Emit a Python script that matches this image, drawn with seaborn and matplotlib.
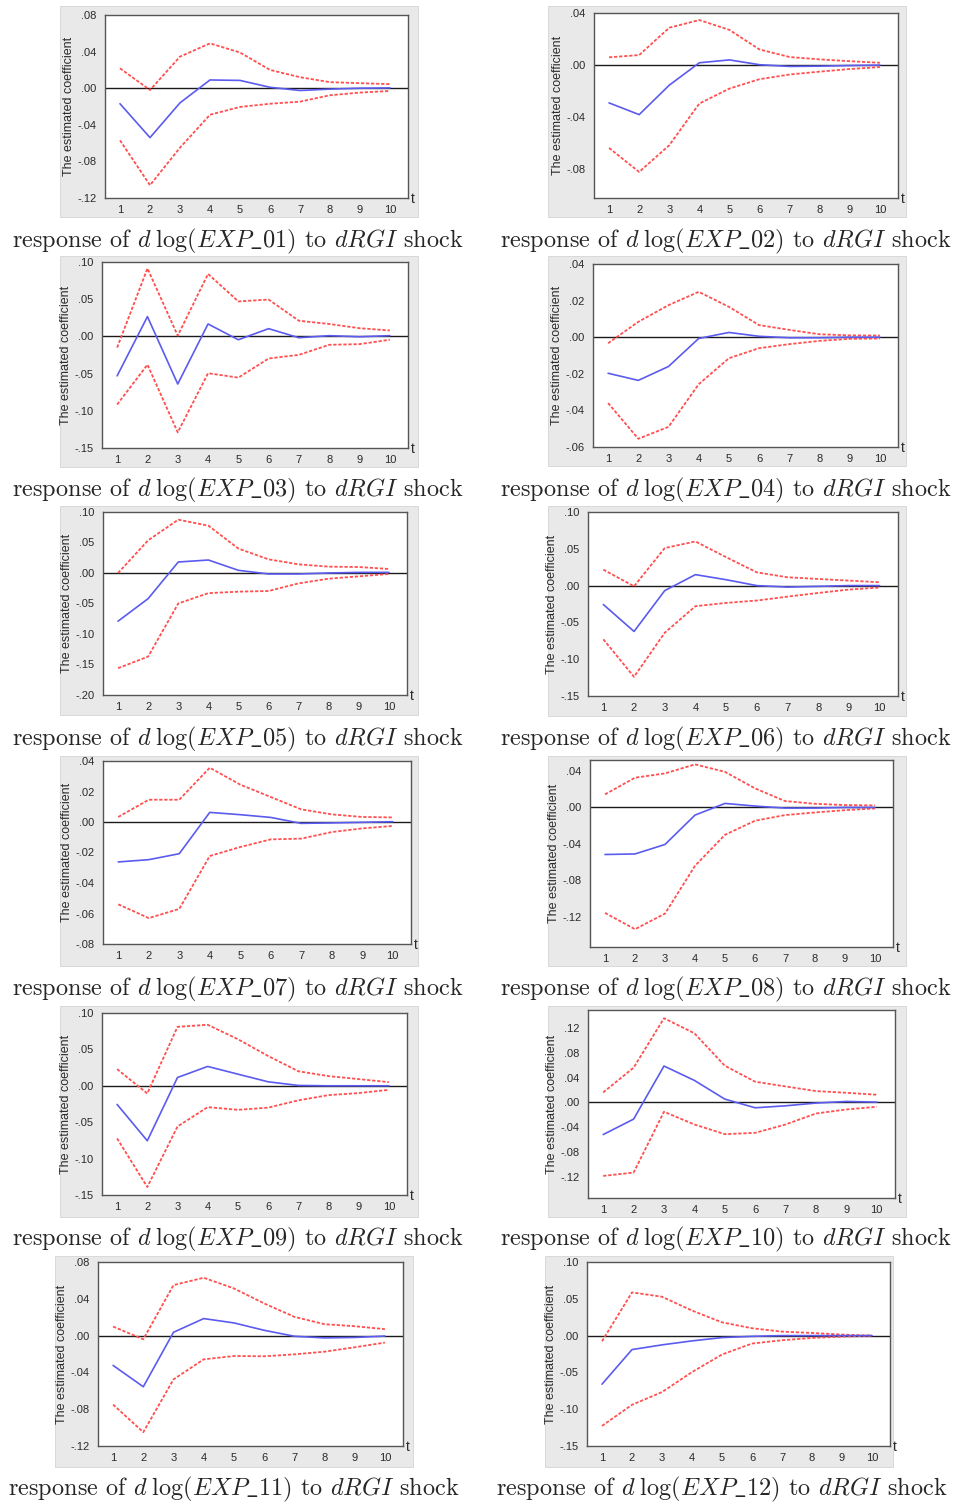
import matplotlib
matplotlib.use("Agg")
import matplotlib.pyplot as plt
from matplotlib.patches import Rectangle
from matplotlib.ticker import FuncFormatter
import seaborn as sns

# impulse horizon
PERIODS = list(range(1, 11))

# EXP_01
RESP_01 = [-0.017, -0.054, -0.016, 0.009, 0.0085, 0.001, -0.0025, -0.001, 0.0, 0.0003]
UPPER_01 = [0.0217, -0.002, 0.0345, 0.049, 0.039, 0.020, 0.012, 0.0066, 0.0055, 0.0044]
LOWER_01 = [-0.057, -0.106, -0.065, -0.029, -0.0205, -0.017, -0.0147, -0.0077, -0.0048, -0.003]
YLIM_01 = (-0.12, 0.08)
YTICKS_01 = [-0.12, -0.08, -0.04, 0.0, 0.04, 0.08]

# EXP_02
RESP_02 = [-0.029, -0.038, -0.0154, 0.0018, 0.004, 0.0003, -0.001, -0.0008, -0.0003, 0.0]
UPPER_02 = [0.006, 0.0077, 0.0287, 0.0346, 0.027, 0.012, 0.0062, 0.0044, 0.003, 0.0018]
LOWER_02 = [-0.0636, -0.082, -0.0615, -0.0295, -0.018, -0.0108, -0.0072, -0.005, -0.003, -0.0015]
YLIM_02 = (-0.102, 0.04)
YTICKS_02 = [-0.08, -0.04, 0.0, 0.04]

# EXP_03
RESP_03 = [-0.053, 0.0266, -0.064, 0.0167, -0.0045, 0.0104, -0.0018, 0.001, -0.0005, 0.001]
UPPER_03 = [-0.015, 0.0914, 0.001, 0.084, 0.047, 0.0495, 0.021, 0.0167, 0.011, 0.008]
LOWER_03 = [-0.0915, -0.038, -0.129, -0.0495, -0.0554, -0.0297, -0.0248, -0.0113, -0.0104, -0.0045]
YLIM_03 = (-0.15, 0.10)
YTICKS_03 = [-0.15, -0.10, -0.05, 0.0, 0.05, 0.10]

# EXP_04
RESP_04 = [-0.0197, -0.0236, -0.016, -0.0007, 0.0026, 0.0005, -0.0003, -0.0003, 0.0, 0.0]
UPPER_04 = [-0.0033, 0.0084, 0.0175, 0.0248, 0.0166, 0.0066, 0.004, 0.0016, 0.001, 0.0009]
LOWER_04 = [-0.036, -0.0555, -0.049, -0.0257, -0.0115, -0.006, -0.0038, -0.002, -0.0009, -0.0007]
YLIM_04 = (-0.06, 0.04)
YTICKS_04 = [-0.06, -0.04, -0.02, 0.0, 0.02, 0.04]

# EXP_05
RESP_05 = [-0.079, -0.042, 0.018, 0.0213, 0.0044, -0.0016, -0.0016, 0.0, 0.001, 0.001]
UPPER_05 = [0.0, 0.0536, 0.0874, 0.0776, 0.040, 0.0224, 0.0142, 0.0104, 0.0098, 0.0066]
LOWER_05 = [-0.156, -0.137, -0.050, -0.033, -0.0306, -0.0295, -0.017, -0.0093, -0.0055, -0.0016]
YLIM_05 = (-0.20, 0.10)
YTICKS_05 = [-0.20, -0.15, -0.10, -0.05, 0.0, 0.05, 0.10]

# EXP_06
RESP_06 = [-0.0257, -0.0623, -0.0068, 0.0149, 0.008, 0.0, -0.002, -0.001, 0.0, 0.0]
UPPER_06 = [0.0217, -0.001, 0.051, 0.060, 0.0386, 0.018, 0.0113, 0.009, 0.0068, 0.0045]
LOWER_06 = [-0.073, -0.124, -0.064, -0.028, -0.0235, -0.0203, -0.015, -0.010, -0.0054, -0.0027]
YLIM_06 = (-0.15, 0.10)
YTICKS_06 = [-0.15, -0.10, -0.05, 0.0, 0.05, 0.10]

# EXP_07
RESP_07 = [-0.0262, -0.0247, -0.0208, 0.0063, 0.0048, 0.003, -0.0009, -0.0006, -0.0002, 0.0002]
UPPER_07 = [0.0033, 0.0146, 0.0146, 0.0356, 0.0245, 0.0164, 0.0083, 0.005, 0.0033, 0.003]
LOWER_07 = [-0.054, -0.063, -0.057, -0.0223, -0.0164, -0.0114, -0.0109, -0.0066, -0.0042, -0.0026]
YLIM_07 = (-0.08, 0.04)
YTICKS_07 = [-0.08, -0.06, -0.04, -0.02, 0.0, 0.02, 0.04]

# EXP_08
RESP_08 = [-0.0516, -0.051, -0.0406, -0.0084, 0.0044, 0.0015, -0.0007, -0.0007, 0.0, 0.0]
UPPER_08 = [0.0143, 0.0326, 0.0373, 0.0472, 0.039, 0.0209, 0.007, 0.004, 0.0026, 0.0022]
LOWER_08 = [-0.1156, -0.1335, -0.1164, -0.064, -0.030, -0.0146, -0.0084, -0.0055, -0.003, -0.0011]
YLIM_08 = (-0.153, 0.052)
YTICKS_08 = [-0.12, -0.08, -0.04, 0.0, 0.04]

# EXP_09
RESP_09 = [-0.0256, -0.0755, 0.0114, 0.0266, 0.016, 0.0055, 0.0005, 0.0, 0.0, 0.0]
UPPER_09 = [0.0229, -0.0105, 0.081, 0.0838, 0.064, 0.041, 0.020, 0.0133, 0.0092, 0.005]
LOWER_09 = [-0.0723, -0.139, -0.0559, -0.0293, -0.033, -0.030, -0.020, -0.0128, -0.010, -0.0055]
YLIM_09 = (-0.15, 0.10)
YTICKS_09 = [-0.15, -0.10, -0.05, 0.0, 0.05, 0.10]

# EXP_10
RESP_10 = [-0.0517, -0.0269, 0.0587, 0.0355, 0.0054, -0.0086, -0.0054, -0.001, 0.0016, 0.0005]
UPPER_10 = [0.0162, 0.056, 0.1357, 0.1115, 0.0592, 0.0334, 0.0258, 0.0183, 0.0156, 0.0124]
LOWER_10 = [-0.1184, -0.113, -0.015, -0.0355, -0.0511, -0.049, -0.0355, -0.0178, -0.0113, -0.007]
YLIM_10 = (-0.154, 0.149)
YTICKS_10 = [-0.12, -0.08, -0.04, 0.0, 0.04, 0.08, 0.12]

# EXP_11
RESP_11 = [-0.0324, -0.0556, 0.0036, 0.0185, 0.0138, 0.0058, -0.0007, -0.0025, -0.002, -0.0005]
UPPER_11 = [0.0098, -0.004, 0.0549, 0.0629, 0.0513, 0.035, 0.0204, 0.0124, 0.0102, 0.007]
LOWER_11 = [-0.075, -0.105, -0.0476, -0.0258, -0.0222, -0.0225, -0.0204, -0.0175, -0.0127, -0.0076]
YLIM_11 = (-0.12, 0.08)
YTICKS_11 = [-0.12, -0.08, -0.04, 0.0, 0.04, 0.08]

# EXP_12
RESP_12 = [-0.066, -0.019, -0.0126, -0.0072, -0.0027, -0.001, 0.0, 0.0, 0.0, 0.0]
UPPER_12 = [-0.0077, 0.0587, 0.0528, 0.034, 0.018, 0.010, 0.0054, 0.0036, 0.0014, 0.0]
LOWER_12 = [-0.1227, -0.094, -0.0767, -0.0496, -0.0257, -0.0108, -0.0063, -0.0032, -0.0014, 0.0]
YLIM_12 = (-0.15, 0.10)
YTICKS_12 = [-0.15, -0.10, -0.05, 0.0, 0.05, 0.10]

SERIES = ["01", "02", "03", "04", "05", "06", "07", "08", "09", "10", "11", "12"]

PANELS = [
    (RESP_01, UPPER_01, LOWER_01, YLIM_01, YTICKS_01),
    (RESP_02, UPPER_02, LOWER_02, YLIM_02, YTICKS_02),
    (RESP_03, UPPER_03, LOWER_03, YLIM_03, YTICKS_03),
    (RESP_04, UPPER_04, LOWER_04, YLIM_04, YTICKS_04),
    (RESP_05, UPPER_05, LOWER_05, YLIM_05, YTICKS_05),
    (RESP_06, UPPER_06, LOWER_06, YLIM_06, YTICKS_06),
    (RESP_07, UPPER_07, LOWER_07, YLIM_07, YTICKS_07),
    (RESP_08, UPPER_08, LOWER_08, YLIM_08, YTICKS_08),
    (RESP_09, UPPER_09, LOWER_09, YLIM_09, YTICKS_09),
    (RESP_10, UPPER_10, LOWER_10, YLIM_10, YTICKS_10),
    (RESP_11, UPPER_11, LOWER_11, YLIM_11, YTICKS_11),
    (RESP_12, UPPER_12, LOWER_12, YLIM_12, YTICKS_12),
]

# pixel boxes: frame (l, t, r, b), plot area (l, t, r, b), caption centre (x, y)
LAYOUT = [
    ((60, 6, 418, 217), (105, 15, 408, 198), (238, 241)),
    ((548, 6, 906, 217), (594, 13, 898, 198), (726, 241)),
    ((60, 256, 418, 467), (102, 262, 408, 448), (238, 490)),
    ((548, 256, 906, 466), (593, 264, 898, 447), (726, 490)),
    ((60, 506, 418, 715), (103, 512, 407, 695), (238, 739)),
    ((548, 506, 906, 716), (588, 512, 898, 696), (726, 739)),
    ((60, 756, 418, 966), (103, 761, 411, 944), (238, 989)),
    ((548, 756, 906, 966), (590, 760, 893, 947), (726, 989)),
    ((60, 1006, 418, 1217), (102, 1013, 407, 1195), (238, 1239)),
    ((548, 1006, 906, 1217), (588, 1010, 895, 1198), (726, 1239)),
    ((55, 1256, 413, 1467), (98, 1262, 403, 1446), (234, 1489)),
    ((545, 1256, 893, 1467), (587, 1262, 890, 1446), (722, 1489)),
]

W, H = 965, 1504
BLUE = "#5b5bef"
RED = "#ff4f4f"


def eviews_fmt(v, _):
    s = f"{v:.2f}"
    return s.replace("0.", ".", 1)


def draw_panel(fig, data, layout, code):
    resp, upper, lower, ylim, yticks = data
    (fl, ft, fr, fb), (pl, pt, pr, pb), (cx, cy) = layout
    fig.add_artist(Rectangle((fl / W, 1 - fb / H), (fr - fl) / W, (fb - ft) / H,
                             transform=fig.transFigure, facecolor="#e9e9e9",
                             edgecolor="#d4d4d4", linewidth=0.6, zorder=0))
    ax = fig.add_axes([pl / W, 1 - pb / H, (pr - pl) / W, (pb - pt) / H])
    ax.set_facecolor("white")
    ax.axhline(0, color="#1a1a1a", linewidth=1.0, zorder=1)
    sns.lineplot(x=PERIODS, y=upper, ax=ax, color=RED, linewidth=1.3,
                 linestyle=(0, (1.8, 1.0)), zorder=2)
    sns.lineplot(x=PERIODS, y=lower, ax=ax, color=RED, linewidth=1.3,
                 linestyle=(0, (1.8, 1.0)), zorder=2)
    sns.lineplot(x=PERIODS, y=resp, ax=ax, color=BLUE, linewidth=1.2, zorder=3)
    ax.set_xlim(0.5, 10.6)
    ax.set_ylim(*ylim)
    ax.set_yticks(yticks)
    ax.yaxis.set_major_formatter(FuncFormatter(eviews_fmt))
    ax.set_xticks(PERIODS)
    ax.set_xticks([p - 0.5 for p in PERIODS] + [PERIODS[-1] + 0.5], minor=True)
    ax.tick_params(axis="x", which="major", length=0, pad=5, labelsize=8, labelcolor="#2a2a2a")
    ax.tick_params(axis="x", which="minor", length=4, width=0.9, color="#444444", direction="out")
    ax.tick_params(axis="y", which="major", length=4, width=0.9, color="#444444",
                   direction="out", pad=2, labelsize=8, labelcolor="#2a2a2a")
    for sp in ax.spines.values():
        sp.set_color("#555555")
        sp.set_linewidth(1.0)
        sp.set_visible(True)
    ax.set_xlabel("")
    ax.set_ylabel("The estimated coefficient", fontsize=9, color="#2a2a2a", labelpad=2)
    ax.annotate("t", xy=(1, 0), xycoords="axes fraction", xytext=(2, -1),
                textcoords="offset points", ha="left", va="center",
                fontsize=10, color="#2a2a2a")
    fig.text(cx / W, 1 - cy / H,
             r"response of $d\;\log(EXP\_" + code + r")$ to $dRGI$ shock",
             ha="center", va="center", fontsize=17.5, family="cmr10")


def main() -> None:
    sns.set_theme(style="white")
    plt.rcParams["font.family"] = ["Liberation Sans", "DejaVu Sans"]
    plt.rcParams["mathtext.fontset"] = "cm"
    plt.rcParams["axes.unicode_minus"] = False
    fig = plt.figure(figsize=(W / 100, H / 100), dpi=100)
    fig.patch.set_facecolor("white")
    for data, layout, code in zip(PANELS, LAYOUT, SERIES):
        draw_panel(fig, data, layout, code)
    fig.savefig("out.png", dpi=100)
    plt.close(fig)


if __name__ == "__main__":
    main()
